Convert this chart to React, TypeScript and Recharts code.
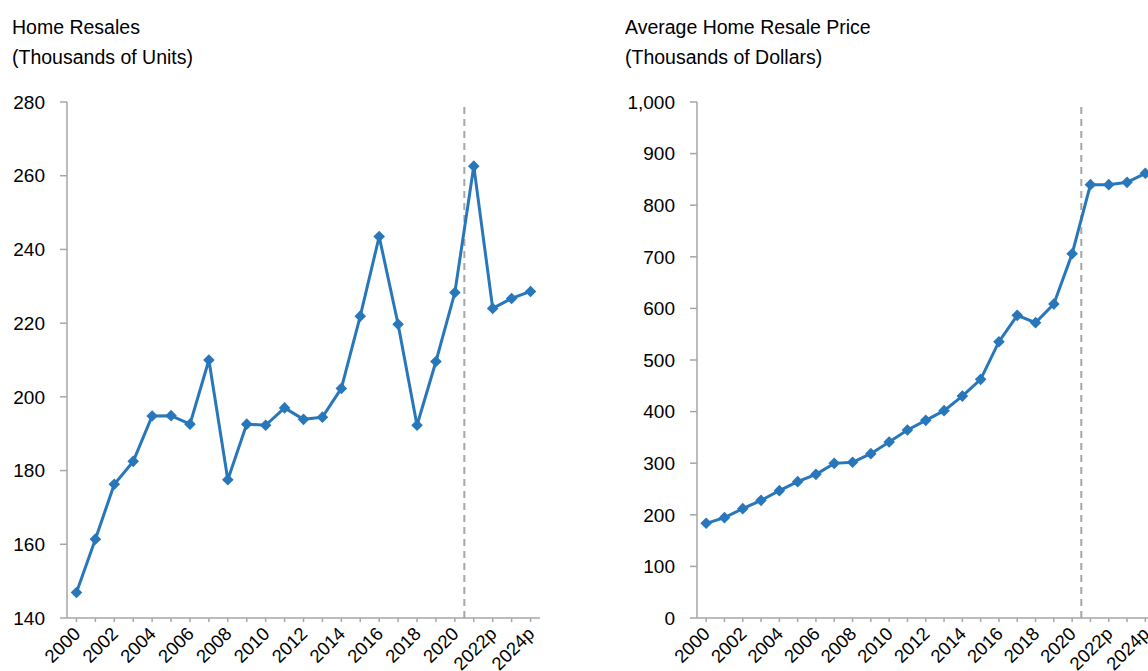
import React from "react";
import { LineChart, Line, XAxis, YAxis, ReferenceLine } from "recharts";

const YEARS = [
  "2000", "2001", "2002", "2003", "2004", "2005", "2006", "2007", "2008",
  "2009", "2010", "2011", "2012", "2013", "2014", "2015", "2016", "2017",
  "2018", "2019", "2020", "2021", "2022p", "2023p", "2024p",
];

// thousands of units
const RESALES = [
  146.9, 161.4, 176.3, 182.5, 194.8, 194.9, 192.6, 210.0, 177.5, 192.6,
  192.3, 197.0, 193.9, 194.5, 202.3, 221.9, 243.5, 219.7, 192.3, 209.6,
  228.3, 262.6, 224.0, 226.7, 228.6,
];

// thousands of dollars
const PRICES = [
  183.5, 194.5, 211.9, 228.0, 246.8, 264.2, 278.4, 299.7, 301.7, 318.5,
  341.0, 364.3, 383.0, 401.8, 430.0, 462.5, 535.5, 586.5, 572.4, 608.5,
  706.0, 839.8, 839.8, 844.3, 861.8,
];

const RESALES_TICKS = [140, 160, 180, 200, 220, 240, 260, 280];
const PRICE_TICKS = [0, 100, 200, 300, 400, 500, 600, 700, 800, 900, 1000];
const X_TICKS = YEARS.map((_, i) => i);
const FORECAST_SPLIT = 20.5;

const BLUE = "#2777BA";
const GREY = "#A6A6A6";
const FONT = "'Liberation Sans', Arial, sans-serif";

const resalesData = YEARS.map((year, i) => ({ i, year, value: RESALES[i] }));
const priceData = YEARS.map((year, i) => ({ i, year, value: PRICES[i] }));

const Diamond = (props: any) => {
  const { cx, cy } = props;
  if (cx == null || cy == null) return <g />;
  const r = 5.8;
  return (
    <path
      d={`M${cx},${cy - r}L${cx + r},${cy}L${cx},${cy + r}L${cx - r},${cy}Z`}
      fill={BLUE}
    />
  );
};

const YearTick = (props: any) => {
  const { x, y, payload } = props;
  const idx = payload.value;
  if (idx % 2 === 1) return <g />;
  const ax = x + 5;
  const ay = y + 11;
  return (
    <text
      x={ax}
      y={ay}
      transform={`rotate(-45 ${ax} ${ay})`}
      textAnchor="end"
      fontSize={18.5}
      fontFamily={FONT}
      fill="#000"
    >
      {YEARS[idx]}
    </text>
  );
};

const Title = ({ left, lines }: { left: number; lines: string[] }) => (
  <div
    style={{
      position: "absolute",
      left,
      top: 12,
      fontFamily: FONT,
      fontSize: 19.5,
      lineHeight: "30px",
      color: "#000",
      whiteSpace: "nowrap",
    }}
  >
    {lines.map((l) => (
      <div key={l}>{l}</div>
    ))}
  </div>
);

const Panel = ({
  data,
  left,
  yWidth,
  rightMargin,
  domain,
  ticks,
  formatter,
}: {
  data: any[];
  left: number;
  yWidth: number;
  rightMargin: number;
  domain: [number, number];
  ticks: number[];
  formatter?: (v: number) => string;
}) => (
  <div style={{ position: "absolute", left, top: 0 }}>
    <LineChart
      width={560}
      height={671}
      data={data}
      margin={{ top: 102, right: rightMargin, bottom: 0, left: 0 }}
    >
      <XAxis
        dataKey="i"
        type="number"
        domain={[-0.5, 24.5]}
        ticks={X_TICKS}
        interval={0}
        height={53}
        tickSize={4}
        tickMargin={2}
        axisLine={{ stroke: GREY, strokeWidth: 1.5 }}
        tickLine={{ stroke: GREY, strokeWidth: 1.5 }}
        tick={<YearTick />}
        allowDataOverflow
      />
      <YAxis
        type="number"
        domain={domain}
        ticks={ticks}
        width={yWidth}
        tickSize={7}
        tickMargin={15}
        axisLine={{ stroke: GREY, strokeWidth: 1.5 }}
        tickLine={{ stroke: GREY, strokeWidth: 1.5 }}
        tick={{ fill: "#000", fontSize: 19, fontFamily: FONT }}
        tickFormatter={formatter}
        allowDataOverflow
      />
      <ReferenceLine
        x={FORECAST_SPLIT}
        stroke={GREY}
        strokeWidth={2}
        strokeDasharray="7 5"
      />
      <Line
        type="linear"
        dataKey="value"
        stroke={BLUE}
        strokeWidth={3}
        dot={<Diamond />}
        activeDot={false}
        isAnimationActive={false}
      />
    </LineChart>
  </div>
);

export default function App() {
  return (
    <div
      style={{
        position: "absolute",
        left: 0,
        top: 0,
        width: 1148,
        height: 671,
        overflow: "hidden",
        background: "#fff",
      }}
    >
      <Title left={12} lines={["Home Resales", "(Thousands of Units)"]} />
      <Title
        left={625}
        lines={["Average Home Resale Price", "(Thousands of Dollars)"]}
      />
      <Panel
        data={resalesData}
        left={0}
        yWidth={67}
        rightMargin={20}
        domain={[140, 280]}
        ticks={RESALES_TICKS}
      />
      <Panel
        data={priceData}
        left={610}
        yWidth={87}
        rightMargin={15.5}
        domain={[0, 1000]}
        ticks={PRICE_TICKS}
        formatter={(v: number) => v.toLocaleString("en-US")}
      />
    </div>
  );
}
